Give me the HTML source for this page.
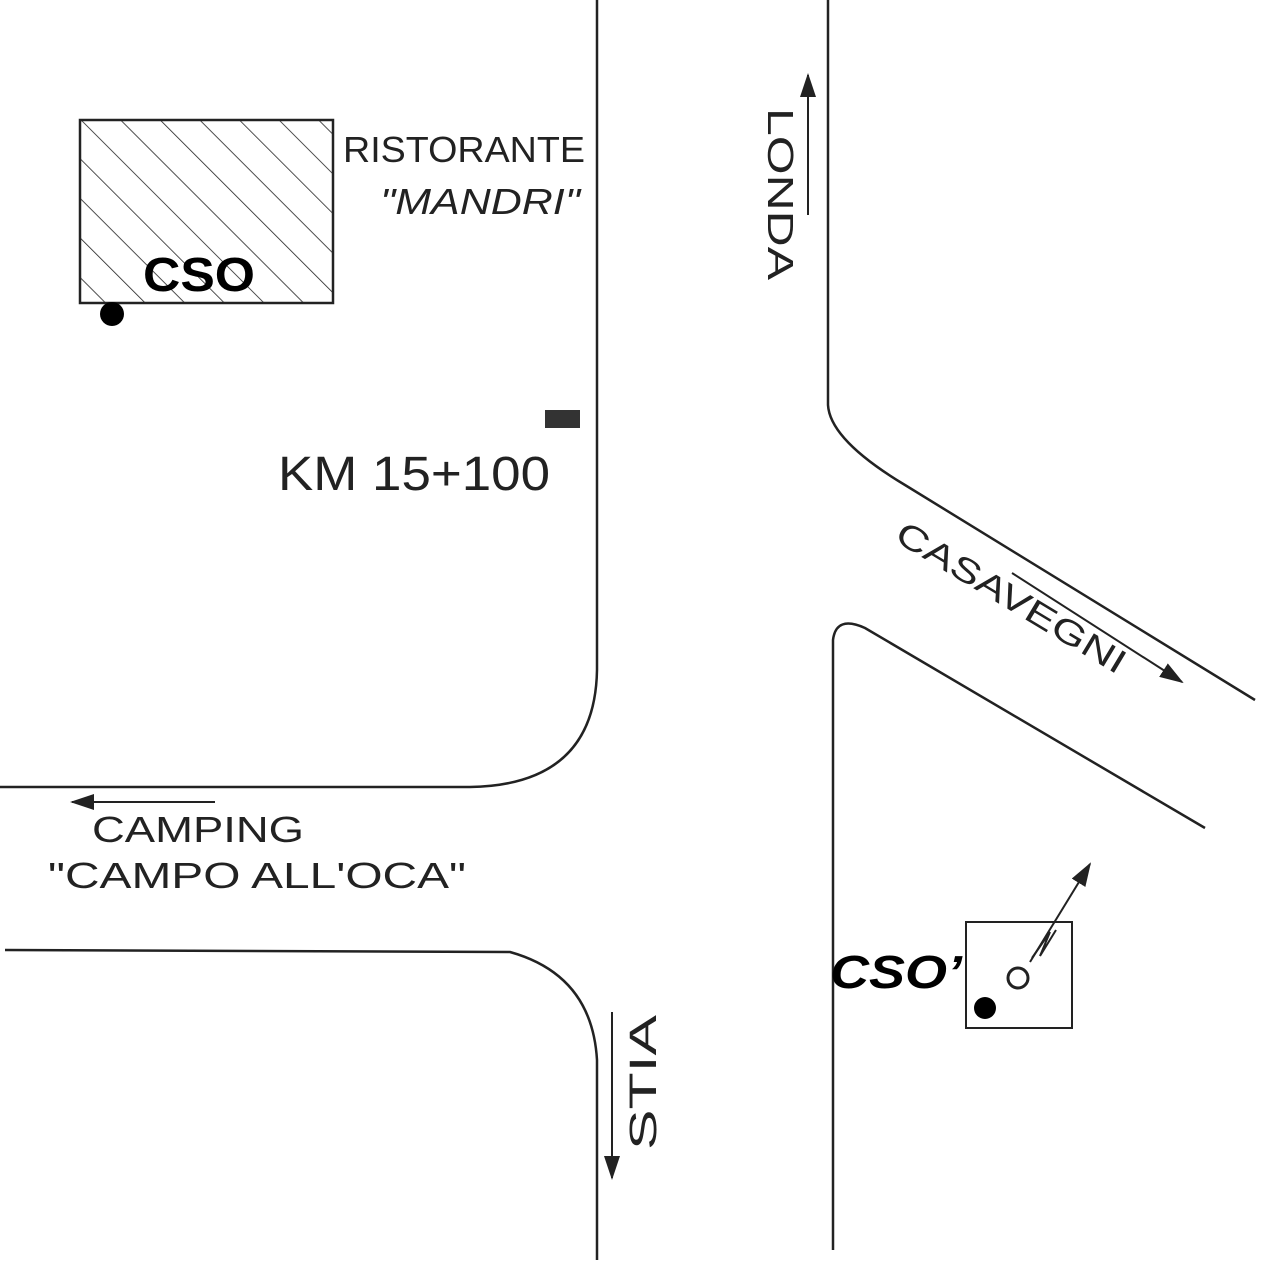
<!DOCTYPE html>
<html><head><meta charset="utf-8"><style>
html,body{margin:0;padding:0;background:#fff}
svg{display:block}
.h{font-family:"Liberation Sans",sans-serif;font-weight:300;fill:#222}
</style></head><body>
<svg width="1261" height="1262" viewBox="0 0 1261 1262" xmlns="http://www.w3.org/2000/svg">
<defs>
<pattern id="hatch" width="28" height="28" patternUnits="userSpaceOnUse" patternTransform="rotate(-45)">
<line x1="0" y1="0" x2="0" y2="28" stroke="#222" stroke-width="1.6"/>
</pattern>
<marker id="ahl" markerWidth="24" markerHeight="16" refX="22" refY="8" orient="auto" markerUnits="userSpaceOnUse">
<path d="M0,0 L24,8 L0,16 Z" fill="#222"/>
</marker>
</defs>
<g fill="none" stroke="#222" stroke-width="2.5">
<path d="M597,0 L597,670 Q595,785 470,787 L0,787"/>
<path d="M5,950 L510,952 Q592,975 597,1060 L597,1260"/>
<path d="M828,0 L828,405 Q830,440 905,485 L1255,700"/>
<path d="M833,1250 L833,640 Q836,615 865,628 L1205,828"/>
</g>
<rect x="80" y="120" width="253" height="183" fill="url(#hatch)" stroke="#222" stroke-width="2.5"/>
<text x="143" y="291" font-family="Liberation Sans,sans-serif" font-weight="bold" font-size="48" fill="#000" textLength="112" lengthAdjust="spacingAndGlyphs">CSO</text>
<circle cx="112" cy="314" r="12" fill="#000"/>
<text x="343" y="162" class="h" font-size="36" textLength="242" lengthAdjust="spacingAndGlyphs">RISTORANTE</text>
<text x="380" y="214" class="h" font-size="36" font-style="italic" textLength="200" lengthAdjust="spacingAndGlyphs">"MANDRI"</text>
<rect x="545" y="410" width="35" height="18" fill="#333"/>
<text x="278" y="490" class="h" font-size="48" textLength="272" lengthAdjust="spacingAndGlyphs">KM 15+100</text>
<text transform="translate(768,108) rotate(90)" class="h" font-size="36" textLength="172" lengthAdjust="spacingAndGlyphs">LONDA</text>
<line x1="808" y1="215" x2="808" y2="75" stroke="#222" stroke-width="2" marker-end="url(#ahl)"/>
<text transform="translate(893,540) rotate(31)" class="h" font-size="34" textLength="262" lengthAdjust="spacingAndGlyphs">CASAVEGNI</text>
<line x1="1012" y1="573" x2="1182" y2="682" stroke="#222" stroke-width="2" marker-end="url(#ahl)"/>
<line x1="215" y1="802" x2="72" y2="802" stroke="#222" stroke-width="2" marker-end="url(#ahl)"/>
<text x="92" y="842" class="h" font-size="36" textLength="212" lengthAdjust="spacingAndGlyphs">CAMPING</text>
<text x="48" y="888" class="h" font-size="36" textLength="418" lengthAdjust="spacingAndGlyphs">"CAMPO ALL'OCA"</text>
<text transform="translate(656,1150) rotate(-90)" class="h" font-size="38" textLength="135" lengthAdjust="spacingAndGlyphs">STIA</text>
<line x1="612" y1="1012" x2="612" y2="1178" stroke="#222" stroke-width="2" marker-end="url(#ahl)"/>
<text x="830" y="988" font-family="Liberation Sans,sans-serif" font-weight="bold" font-style="italic" font-size="46" fill="#000" textLength="132" lengthAdjust="spacingAndGlyphs">CSO’</text>
<rect x="966" y="922" width="106" height="106" fill="none" stroke="#222" stroke-width="2"/>
<circle cx="985" cy="1008" r="11" fill="#000"/>
<circle cx="1018" cy="978" r="10" fill="none" stroke="#222" stroke-width="3"/>
<line x1="1030" y1="962" x2="1090" y2="864" stroke="#222" stroke-width="2" marker-end="url(#ahl)"/>
<path d="M1032,958 L1050,932 L1040,956 L1056,930" fill="none" stroke="#222" stroke-width="2"/>
</svg>
</body></html>
